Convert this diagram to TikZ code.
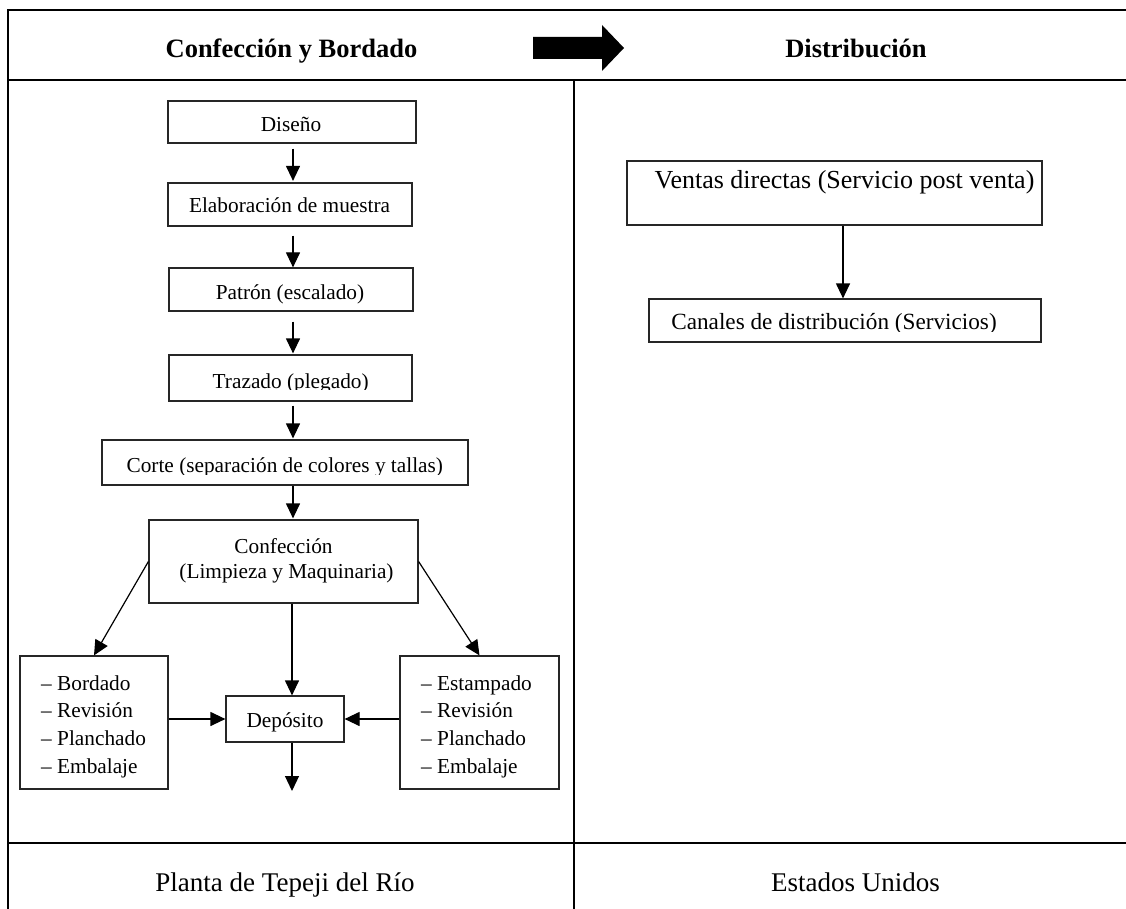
\documentclass[tikz,border=0pt]{standalone}
\usepackage{fontspec}
\setmainfont{Liberation Serif}
\usetikzlibrary{arrows.meta}
\begin{document}
\begin{tikzpicture}[x=1pt,y=-1pt,
  frame/.style={line width=2.6pt},
  divider/.style={line width=2pt},
  box/.style={draw=black!85, line width=1.2pt, rectangle, inner sep=0pt},
  txt/.style={inner sep=0pt, font=\fontsize{21.3}{25}\selectfont, anchor=base},
  bigtxt/.style={inner sep=0pt, font=\fontsize{23.2}{27}\selectfont, anchor=base},
  vbig/.style={inner sep=0pt, font=\fontsize{26}{30}\selectfont, anchor=base},
  headtxt/.style={inner sep=0pt, font=\bfseries\fontsize{26.5}{30}\selectfont, anchor=base},
  foottxt/.style={inner sep=0pt, font=\fontsize{27}{30}\selectfont, anchor=base},
  conn/.style={line width=1.2pt, -{Triangle[length=15pt,width=14pt]}},
  plain/.style={line width=1.2pt},
]
\useasboundingbox (0,0) rectangle (1126,909);
\fill[white] (0,0) rectangle (1126,909);

% ---- frame ----
\coordinate (tl) at (8,10);
\coordinate (tr) at (1126,10);
\coordinate (bl) at (8,909);
\coordinate (hl) at (8,80);
\coordinate (hr) at (1126,80);
\coordinate (fl) at (8,843);
\coordinate (fr) at (1126,843);
\coordinate (dt) at (574,80);
\coordinate (db) at (574,909);
\draw[frame] (tr) -- (tl) -- (bl);
\draw[frame] (hl) -- (hr);
\draw[frame] (fl) -- (fr);
\draw[divider] (dt) -- (db);

% ---- header ----
\node[headtxt] (hleft) at (291.5,58) {Confección y Bordado};
\node[headtxt] (hright) at (856,58) {Distribución};
\fill[black] (533,37) -- (602,37) -- (602,25) -- (624,48) -- (602,71) -- (602,59) -- (533,59) -- cycle;

% ---- footer ----
\node[foottxt] (fleft) at (285,891) {Planta de Tepeji del Río};
\node[foottxt] (fright) at (855.5,891.5) {Estados Unidos};

% ---- left column boxes ----
\coordinate (ax) at (293,0);
\node[box, minimum width=248pt, minimum height=42pt] (diseno) at (292,122) {};
\node[txt] (tdiseno) at (291,131.7) {Diseño};

\node[box, minimum width=244pt, minimum height=43pt] (elab) at (290,204.5) {};
\node[txt] (telab) at (289.6,213) {Elaboración de muestra};

\node[box, minimum width=244pt, minimum height=43pt] (patron) at (291,289.5) {};
\node[txt] (tpatron) at (290,299) {Patrón (escalado)};

\node[box, minimum width=243pt, minimum height=46pt] (trazado) at (290.5,378) {};
\begin{scope}
  \clip (169,355) rectangle (412,389.5);
  \node[txt] (ttrazado) at (290.7,388) {Trazado (plegado)};
\end{scope}

\node[box, minimum width=366pt, minimum height=45pt] (corte) at (285,462.5) {};
\begin{scope}
  \clip (102,440) rectangle (468,474);
  \node[txt] (tcorte) at (284.8,472.5) {Corte (separación de colores y tallas)};
\end{scope}

\node[box, minimum width=269pt, minimum height=83pt] (confec) at (283.5,561.5) {};
\node[txt] (tconfec1) at (283.5,553) {Confección};
\node[txt] (tconfec2) at (286.5,578.6) {(Limpieza y Maquinaria)};

\node[box, minimum width=148pt, minimum height=133pt] (lista) at (94,722.5) {};
\foreach \t [count=\i from 0] in {Bordado,Revisión,Planchado,Embalaje}
  \node[txt, anchor=base west] (la\i) at (41,690+27.8*\i) {\textendash\ \t};

\node[box, minimum width=159pt, minimum height=133pt] (listb) at (479.5,722.5) {};
\foreach \t [count=\i from 0] in {Estampado,Revisión,Planchado,Embalaje}
  \node[txt, anchor=base west] (lb\i) at (421,690+27.8*\i) {\textendash\ \t};

\node[box, minimum width=118pt, minimum height=46pt] (dep) at (285,719) {};
\node[txt] (tdep) at (285,727) {Depósito};

\coordinate (fin) at (292,791);

% ---- left column connectors ----
\draw[conn, shorten <=5pt, shorten >=1.5pt] (diseno.south -| ax) -- (elab.north -| ax);
\draw[conn, shorten <=9pt] (elab.south -| ax) -- (patron.north -| ax);
\draw[conn, shorten <=10pt, shorten >=1pt] (patron.south -| ax) -- (trazado.north -| ax);
\draw[conn, shorten <=4pt, shorten >=1pt] (trazado.south -| ax) -- (corte.north -| ax);
\draw[conn, shorten >=1pt] (corte.south -| ax) -- (confec.north -| ax);
\draw[conn] (confec.west) -- (lista.north);
\draw[conn] (confec.east) -- (listb.north);
\draw[conn] (confec.south -| fin) -- (dep.north -| fin);
\draw[conn] (lista.east |- dep.west) -- (dep.west);
\draw[conn] (listb.west |- dep.east) -- (dep.east);
\draw[conn] (dep.south -| fin) -- (fin);

% ---- right column ----
\coordinate (axr) at (843,0);
\node[box, minimum width=415pt, minimum height=64pt] (ventas) at (834.5,193) {};
\node[vbig] (tventas) at (844.5,188.8) {Ventas directas (Servicio post venta)};

\node[box, minimum width=392pt, minimum height=43pt] (canales) at (845,320.5) {};
\begin{scope}
  \clip (649,299) rectangle (1041,331);
  \node[bigtxt] (tcanales) at (834,329.5) {Canales de distribución (Servicios)};
\end{scope}

\draw[conn] (ventas.south -| axr) -- (canales.north -| axr);

\end{tikzpicture}
\end{document}
